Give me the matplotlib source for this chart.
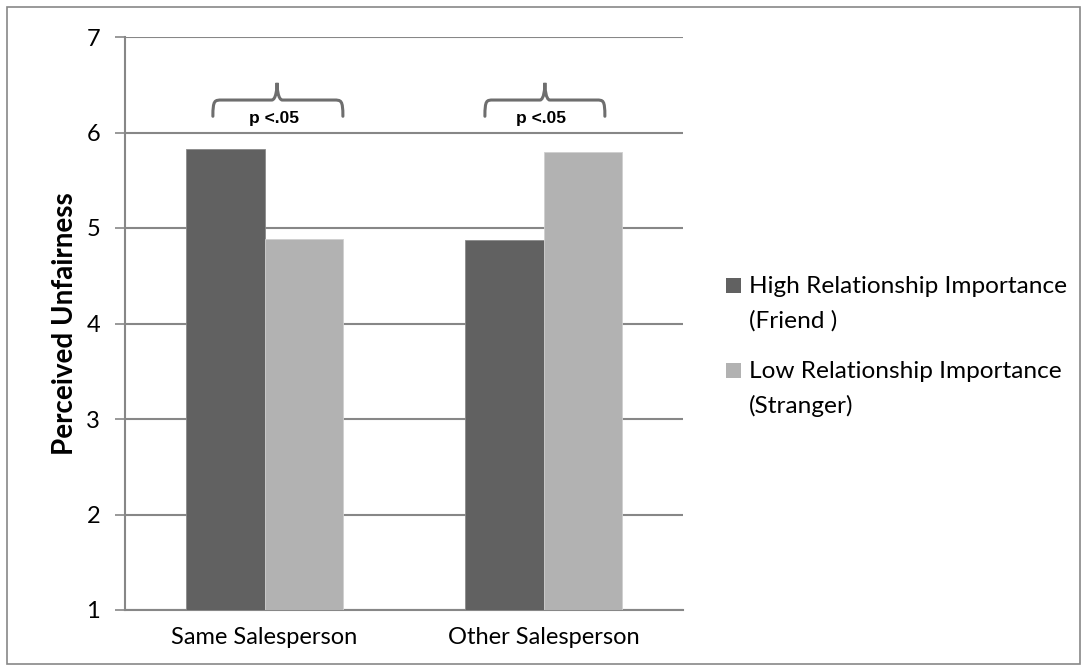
import matplotlib
matplotlib.use("Agg")
import matplotlib.pyplot as plt
import numpy as np
from matplotlib.patches import Rectangle, PathPatch
from matplotlib.path import Path

categories = ["Same Salesperson", "Other Salesperson"]
series_names = ["High Relationship Importance\n(Friend )",
                "Low Relationship Importance\n(Stranger)"]
high_importance = [5.83, 4.87]
low_importance = [4.89, 5.80]
series_colors = ["#616161", "#b2b2b2"]
y_ticks = [1, 2, 3, 4, 5, 6, 7]
sig_label = "p <.05"

FONT = "Lato"
GRID = "#878787"
W, H = 1087, 671

fig = plt.figure(figsize=(W / 100, H / 100), dpi=100)
fig.patch.set_facecolor("white")
fig.patches.append(Rectangle((7 / W, 7 / H), 1073 / W, 657 / H,
                             transform=fig.transFigure, fill=False,
                             edgecolor=GRID, linewidth=1.2))

ax = fig.add_axes([125 / W, 1 - 610 / H, 558 / W, 573 / H])

x = np.arange(len(categories))
w = 0.283
ax.bar(x - w / 2, high_importance, width=w, bottom=0,
       color=series_colors[0], edgecolor="#8a8a8a", linewidth=0.6, zorder=3)
ax.bar(x + w / 2, low_importance, width=w, bottom=0,
       color=series_colors[1], edgecolor="#cfcfcf", linewidth=0.6, zorder=3)

ax.set_xlim(-0.5, 1.5)
ax.set_ylim(1, 7)
ax.set_yticks(y_ticks)
ax.set_yticklabels([str(t) for t in y_ticks], fontsize=17, family=FONT)
ax.set_xticks(x)
ax.set_xticklabels(categories, fontsize=17, family=FONT)
ax.tick_params(axis="x", length=0, pad=12)
ax.tick_params(axis="y", length=7, width=1.2, color=GRID, pad=11)
ax.yaxis.grid(True, color=GRID, linewidth=1.5, zorder=0)
ax.set_axisbelow(True)
for s in ["top", "right"]:
    ax.spines[s].set_visible(False)
for s in ["left", "bottom"]:
    ax.spines[s].set_color(GRID)
    ax.spines[s].set_linewidth(1.5)

ax.set_ylabel("Perceived Unfairness", fontsize=20, fontweight="bold",
              family=FONT, labelpad=6)


def brace(ax, x0, x1, xm, y_end, y_mid, y_top):
    r = (x1 - x0) * 0.07
    dy = (y_mid - y_end)
    verts = [
        (x0, y_end),
        (x0, y_mid), (x0 + r * 0.2, y_mid), (x0 + r, y_mid),
        (xm - r * 0.6, y_mid),
        (xm - r * 0.1, y_mid), (xm, y_top - dy * 0.3), (xm, y_top),
        (xm, y_top - dy * 0.3), (xm + r * 0.1, y_mid), (xm + r * 0.6, y_mid),
        (x1 - r, y_mid),
        (x1 - r * 0.2, y_mid), (x1, y_mid), (x1, y_end),
    ]
    codes = [Path.MOVETO,
             Path.CURVE4, Path.CURVE4, Path.CURVE4,
             Path.LINETO,
             Path.CURVE4, Path.CURVE4, Path.CURVE4,
             Path.CURVE4, Path.CURVE4, Path.CURVE4,
             Path.LINETO,
             Path.CURVE4, Path.CURVE4, Path.CURVE4]
    ax.add_patch(PathPatch(Path(verts, codes), fill=False, edgecolor="#6e6e6e",
                           linewidth=2.2, clip_on=False, zorder=4,
                           capstyle="round"))


brace_spans = [(-0.185, 0.281, 0.045), (0.790, 1.220, 1.005)]
for (b0, b1, bm) in brace_spans:
    brace(ax, b0, b1, bm, 6.17, 6.34, 6.52)
    ax.text((b0 + b1) / 2 - 0.015, 6.07, sig_label, ha="center", va="bottom",
            fontsize=12.5, fontweight="bold", family="Liberation Sans",
            zorder=5)

# legend: swatch aligned with the first line of each two-line label
for i, (name, col) in enumerate(zip(series_names, series_colors)):
    y0 = 278 + 85 * i
    fig.patches.append(Rectangle((726 / W, 1 - (y0 + 15) / H), 15 / W, 15 / H,
                                 transform=fig.transFigure, facecolor=col,
                                 edgecolor="none"))
    for j, line in enumerate(name.split("\n")):
        fig.text(749 / W, 1 - (y0 + 7 + 34 * j) / H, line, ha="left",
                 va="center_baseline", fontsize=17.6, family=FONT)

fig.savefig("out.png", dpi=100, facecolor="white")
